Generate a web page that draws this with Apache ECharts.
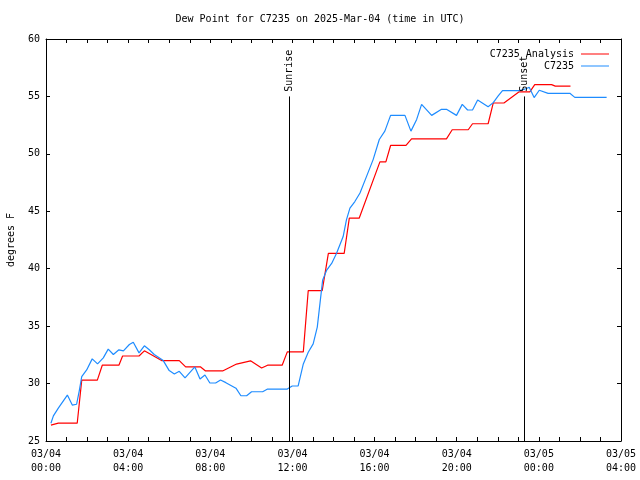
<!DOCTYPE html>
<html>
<head>
<meta charset="utf-8">
<script src="https://cdn.jsdelivr.net/npm/echarts@6/dist/echarts.min.js"></script>
<style>
html,body{margin:0;padding:0;background:#fff;}
#chart{width:640px;height:480px;}
</style>
</head>
<body>
<div id="chart"></div>
<script>
// ---- Data (hours since 2025-03-04 00:00 UTC) ----
var analysisHours = [0.24,0.6,1.52,1.74,2.5,2.74,3.55,3.73,4.53,4.79,5.63,6.49,6.8,7.53,7.77,8.6,9.28,9.96,10.5,10.79,11.5,11.75,12.53,12.77,13.45,13.75,14.52,14.77,15.25,16.26,16.55,16.78,17.53,17.8,19.5,19.78,20.56,20.77,21.53,21.78,22.3,23.04,23.56,23.8,24.62,24.8,25.54];
var analysisValues = [26.38,26.55,26.55,30.3,30.3,31.6,31.6,32.4,32.4,32.85,32.0,32.0,31.45,31.45,31.1,31.1,31.7,31.98,31.36,31.6,31.6,32.76,32.76,38.1,38.1,41.34,41.34,44.4,44.4,49.3,49.3,50.73,50.73,51.3,51.3,52.1,52.1,52.62,52.62,54.43,54.43,55.4,55.4,56.03,56.03,55.9,55.9];

var obsHours = [0.24,0.36,0.6,1.04,1.28,1.49,1.62,1.74,1.98,2.25,2.51,2.79,3.03,3.28,3.55,3.77,4.06,4.25,4.53,4.79,5.03,5.27,5.71,6.0,6.25,6.49,6.77,7.25,7.5,7.74,7.98,8.26,8.5,8.76,9.25,9.49,9.77,10.01,10.55,10.79,11.75,11.99,12.28,12.53,12.77,13.01,13.21,13.34,13.47,13.67,13.91,14.15,14.47,14.63,14.8,15.04,15.29,15.61,15.93,16.23,16.5,16.78,17.48,17.77,18.05,18.29,18.78,19.26,19.5,19.99,20.27,20.53,20.77,21.02,21.53,21.78,22.02,22.23,23.08,23.4,23.53,23.77,24.02,24.45,25.51,25.75,27.3];
var obsValues = [26.55,27.19,27.86,29.0,28.13,28.2,29.37,30.6,31.19,32.15,31.71,32.24,33.0,32.53,32.94,32.85,33.4,33.6,32.67,33.29,32.94,32.53,32.0,31.13,30.84,31.07,30.49,31.45,30.4,30.75,30.05,30.05,30.31,30.08,29.6,28.94,28.94,29.29,29.29,29.52,29.52,29.79,29.79,31.71,32.73,33.46,34.92,36.96,39.0,39.88,40.46,41.34,42.8,44.25,45.27,45.85,46.59,48.04,49.5,51.25,51.98,53.35,53.35,51.98,53.0,54.31,53.35,53.88,53.88,53.35,54.31,53.82,53.82,54.69,54.1,54.46,55.04,55.5,55.5,55.69,55.8,54.9,55.54,55.27,55.27,54.92,54.92];

var eventNames = ['Sunrise','Sunset'];
var eventHours = [11.85, 23.29];

var xTickLabels = ['03/04\n00:00','03/04\n04:00','03/04\n08:00','03/04\n12:00','03/04\n16:00','03/04\n20:00','03/05\n00:00','03/05\n04:00'];
var seriesNames = ['C7235 Analysis','C7235'];

// ---- Chart ----
var FONT = 'DejaVu Sans Mono';
function pairs(xs, ys){ var out=[]; for (var i=0;i<xs.length;i++) out.push([xs[i], ys[i]]); return out; }

var chart = echarts.init(document.getElementById('chart'), null, {renderer:'canvas'});

function xAxisDef(pos, showLabel){
  return {
    type:'value', position:pos, min:0, max:28, interval:4,
    axisLine:{show:true, onZero:false, lineStyle:{color:'#000', width:1}},
    axisTick:{show:true, inside:true, length:4, lineStyle:{color:'#000'}},
    minorTick:{show:true, splitNumber:4, length:4, lineStyle:{color:'#000'}},
    splitLine:{show:false}, minorSplitLine:{show:false},
    axisLabel:{show:showLabel, margin:6, color:'#000', fontFamily:FONT, fontSize:10, lineHeight:14,
      formatter:function(v){ return xTickLabels[Math.round(v/4)]; }}
  };
}
function yAxisDef(pos, showLabel){
  var a = {
    type:'value', position:pos, min:25, max:60, interval:5,
    axisLine:{show:true, onZero:false, lineStyle:{color:'#000', width:1}},
    axisTick:{show:true, inside:true, length:4, lineStyle:{color:'#000'}},
    splitLine:{show:false},
    axisLabel:{show:showLabel, margin:6, color:'#000', fontFamily:FONT, fontSize:10}
  };
  if (showLabel){
    a.name = 'degrees F'; a.nameLocation = 'middle'; a.nameGap = 30; a.nameRotate = 90;
    a.nameTextStyle = {color:'#000', fontFamily:FONT, fontSize:10};
  }
  return a;
}

var markLineData = [], markPointData = [];
for (var i=0;i<eventNames.length;i++){
  markLineData.push([{coord:[eventHours[i],25]},{coord:[eventHours[i],55]}]);
  markPointData.push({name:eventNames[i], coord:[eventHours[i],55.4]});
}

var option = {
  animation:false,
  backgroundColor:'#fff',
  title:{text:'Dew Point for C7235 on 2025-Mar-04 (time in UTC)', left:'center', top:9,
    textStyle:{fontFamily:FONT, fontSize:10, fontWeight:'normal', color:'#000'}},
  legend:[
    {data:[seriesNames[0]], right:26, top:44, orient:'vertical', align:'right', icon:'rect', itemWidth:28, itemHeight:1,
     selectedMode:false, textStyle:{fontFamily:FONT, fontSize:10, color:'#000', padding:[0,2,0,0]}},
    {data:[seriesNames[1]], right:26, top:56, orient:'vertical', align:'right', icon:'rect', itemWidth:28, itemHeight:1,
     selectedMode:false, textStyle:{fontFamily:FONT, fontSize:10, color:'#000', padding:[0,2,0,0]}}
  ],
  grid:{left:46, right:19, top:39, bottom:39, containLabel:false, outerBoundsMode:'none'},
  xAxis:[xAxisDef('bottom', true), xAxisDef('top', false)],
  yAxis:[yAxisDef('left', true), yAxisDef('right', false)],
  series:[
    {name:seriesNames[0], type:'line', xAxisIndex:0, yAxisIndex:0, data:pairs(analysisHours, analysisValues),
     symbol:'none', showSymbol:false, color:'#ff0000', lineStyle:{color:'#ff0000', width:1.2}, z:2,
     markLine:{silent:true, symbol:['none','none'], label:{show:false},
       lineStyle:{color:'#000', width:1, type:'solid'}, data:markLineData},
     markPoint:{silent:true, symbol:'rect', symbolSize:1, itemStyle:{color:'rgba(0,0,0,0)'},
       label:{show:true, formatter:'{b}', position:'inside', rotate:90, align:'left', verticalAlign:'middle',
         color:'#000', fontFamily:FONT, fontSize:10}, data:markPointData}
    },
    {name:seriesNames[1], type:'line', xAxisIndex:0, yAxisIndex:0, data:pairs(obsHours, obsValues),
     symbol:'none', showSymbol:false, color:'#1e8cff', lineStyle:{color:'#1e8cff', width:1.2}, z:3}
  ]
};
chart.setOption(option);
</script>
</body>
</html>
